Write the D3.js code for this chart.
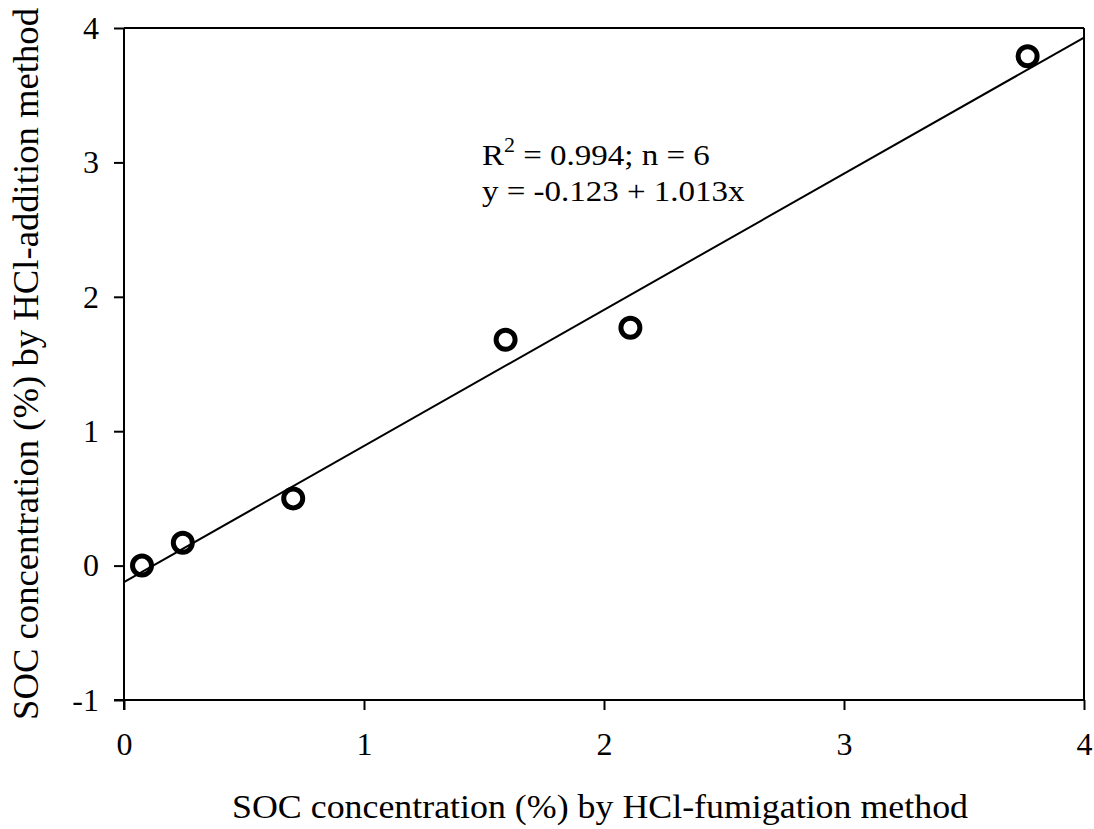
<!DOCTYPE html>
<html><head><meta charset="utf-8">
<script src="https://cdn.jsdelivr.net/npm/d3@7"></script>
<style>body{margin:0;background:#fff}svg{display:block}text{font-family:"Liberation Serif","Times New Roman",serif;fill:#000}</style>
</head><body>
<script>
const xValues = [0.075, 0.245, 0.705, 1.59, 2.11, 3.765];
const yValues = [0.0, 0.17, 0.50, 1.68, 1.77, 3.79];
const xTicks = [0, 1, 2, 3, 4];
const yTicks = [-1, 0, 1, 2, 3, 4];
const fitIntercept = -0.123, fitSlope = 1.013;
const annotationLine1 = ["R", "2", " = 0.994; n = 6"];
const annotationLine2 = "y = -0.123 + 1.013x";
const xTitle = "SOC concentration (%) by HCl-fumigation method";
const yTitle = "SOC concentration (%) by HCl-addition method";

const W = 1094, H = 829;
const svg = d3.select("body").append("svg").attr("width", W).attr("height", H);
const x = d3.scaleLinear().domain([0, 4]).range([124, 1084]);
const y = d3.scaleLinear().domain([-1, 4]).range([700, 28]);

// frame
svg.append("line").attr("x1", x(0)).attr("x2", x(4)).attr("y1", y(4)).attr("y2", y(4)).attr("stroke", "#000").attr("stroke-width", 2);
svg.append("line").attr("x1", x(4)).attr("x2", x(4)).attr("y1", y(4)).attr("y2", y(-1)).attr("stroke", "#000").attr("stroke-width", 2);

const xAxis = svg.append("g").attr("transform", `translate(0,${y(-1)})`)
  .call(d3.axisBottom(x).tickValues(xTicks).tickFormat(d3.format("d")).tickSize(10).tickPadding(22).tickSizeOuter(0));
const yAxis = svg.append("g").attr("transform", `translate(${x(0)},0)`)
  .call(d3.axisLeft(y).tickValues(yTicks).tickFormat(d => d < 0 ? "-" + Math.abs(d) : d).tickSize(10).tickPadding(15).tickSizeOuter(0));
[xAxis, yAxis].forEach(g => {
  g.select(".domain").attr("stroke", "#000").attr("stroke-width", 2);
  g.selectAll(".tick line").attr("stroke", "#000").attr("stroke-width", 2);
  g.selectAll(".tick text").attr("font-size", 32).attr("font-family", "Liberation Serif").attr("fill", "#000");
});
yAxis.select(".domain").attr("d", `M0,${y(4)}V${y(-1) + 10}`);
xAxis.select(".domain").attr("d", `M${x(0) - 10},0H${x(4)}`);

// regression line
svg.append("line")
  .attr("x1", x(0)).attr("y1", y(fitIntercept + fitSlope * 0))
  .attr("x2", x(4)).attr("y2", y(fitIntercept + fitSlope * 4))
  .attr("stroke", "#000").attr("stroke-width", 2);

// points
svg.selectAll("circle.pt").data(xValues.map((v, i) => [v, yValues[i]])).enter().append("circle")
  .attr("class", "pt").attr("cx", d => x(d[0])).attr("cy", d => y(d[1])).attr("r", 9.5)
  .attr("fill", "none").attr("stroke", "#000").attr("stroke-width", 5);

// annotation
const ann1 = svg.append("text").attr("transform", "translate(482,165) scale(1.1,1)").attr("font-size", 30);
ann1.append("tspan").text(annotationLine1[0]);
ann1.append("tspan").text(annotationLine1[1]).attr("font-size", 20).attr("dy", -13);
ann1.append("tspan").text(annotationLine1[2]).attr("dy", 13);
svg.append("text").attr("transform", "translate(482,201) scale(1.1,1)").attr("font-size", 30).text(annotationLine2);

// titles
svg.append("text").attr("x", 600).attr("y", 818).attr("text-anchor", "middle").attr("font-size", 33)
  .attr("textLength", 736).attr("lengthAdjust", "spacingAndGlyphs").text(xTitle);
svg.append("text").attr("transform", "translate(38,364) rotate(-90)").attr("text-anchor", "middle").attr("font-size", 35)
  .attr("textLength", 712).attr("lengthAdjust", "spacingAndGlyphs").text(yTitle);
</script>
</body></html>
